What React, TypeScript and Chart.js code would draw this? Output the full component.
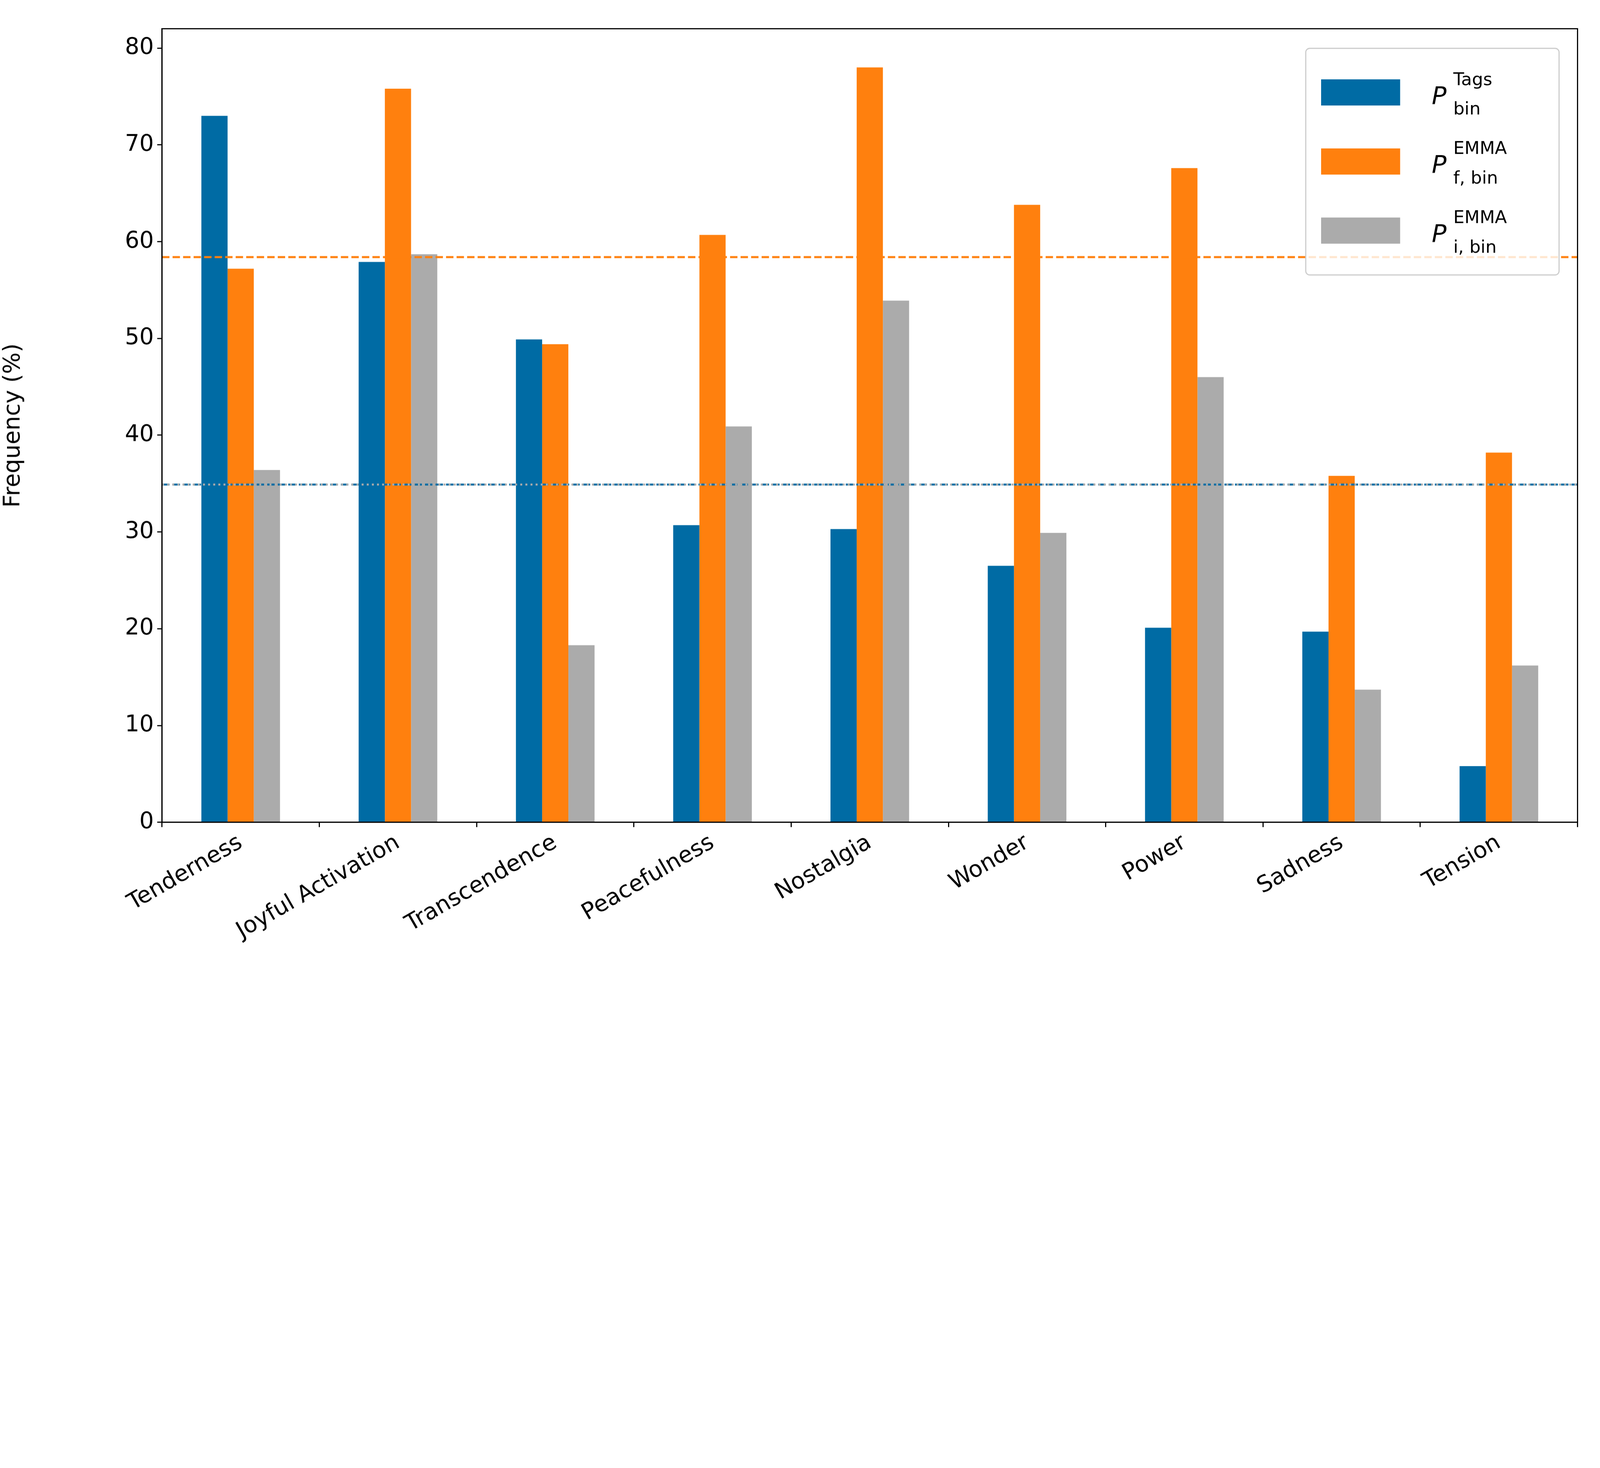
import React, { useEffect, useRef } from "react";
import { Chart, registerables } from "chart.js";
Chart.register(...registerables);

const categories = ["Tenderness", "Joyful Activation", "Transcendence", "Peacefulness", "Nostalgia", "Wonder", "Power", "Sadness", "Tension"];
const tagsValues = [73.0, 57.9, 49.9, 30.7, 30.3, 26.5, 20.1, 19.7, 5.8];
const fValues = [57.2, 75.8, 49.4, 60.7, 78.0, 63.8, 67.6, 35.8, 38.2];
const iValues = [36.4, 58.7, 18.3, 40.9, 53.9, 29.9, 46.0, 13.7, 16.2];
const meanF = 58.4;
const meanTags = 34.9;
const meanI = 34.9;
const yTicks = [0, 10, 20, 30, 40, 50, 60, 70, 80];

const BLUE = "#006ba4";
const ORANGE = "#ff800e";
const GRAY = "#ababab";
const FONT = "DejaVu Sans";

export default function App() {
  const ref = useRef<HTMLCanvasElement>(null);
  const W = window.innerWidth;
  const H = window.innerHeight;
  const s = Math.min(W / 5628, H / 3759);
  useEffect(() => {
    const extra = {
      id: "extra",
      afterDatasetsDraw(chart: any) {
        const ctx = chart.ctx;
        const a = chart.chartArea;
        const y = chart.scales.y;
        ctx.save();
        const hline = (v: number, color: string, dash: number[]) => {
          ctx.beginPath();
          ctx.strokeStyle = color;
          ctx.lineWidth = 7 * s;
          ctx.setLineDash(dash.map((d) => d * s));
          const py = y.getPixelForValue(v);
          ctx.moveTo(a.left, py);
          ctx.lineTo(a.right, py);
          ctx.stroke();
        };
        hline(meanF, ORANGE, [26, 11]);
        hline(meanTags, BLUE, [26, 11]);
        hline(meanI, GRAY, [7, 11]);
        ctx.setLineDash([]);
        ctx.strokeStyle = "#000";
        ctx.lineWidth = 4 * s;
        ctx.strokeRect(a.left, a.top, a.right - a.left, a.bottom - a.top);
        const lx = 4593 * s, ly = 170 * s, lw = 891 * s, lh = 797 * s;
        ctx.fillStyle = "rgba(255,255,255,0.8)";
        ctx.strokeStyle = "#cccccc";
        ctx.lineWidth = 4 * s;
        ctx.beginPath();
        ctx.roundRect(lx, ly, lw, lh, 14 * s);
        ctx.fill();
        ctx.stroke();
        const items = [
          { c: BLUE, sup: "Tags", sub: "bin" },
          { c: ORANGE, sup: "EMMA", sub: "f, bin" },
          { c: GRAY, sup: "EMMA", sub: "i, bin" },
        ];
        items.forEach((it, k) => {
          const cy = (325 + k * 243) * s;
          ctx.fillStyle = it.c;
          ctx.fillRect(4647 * s, cy - 46 * s, 278 * s, 92 * s);
          ctx.fillStyle = "#000";
          ctx.textBaseline = "alphabetic";
          ctx.textAlign = "left";
          ctx.font = `italic ${86 * s}px ${FONT}`;
          ctx.fillText("P", 5036 * s, cy + 40 * s);
          ctx.font = `${62 * s}px ${FONT}`;
          ctx.fillText(it.sup, 5112 * s, cy - 26 * s);
          ctx.fillText(it.sub, 5112 * s, cy + 78 * s);
        });
        ctx.restore();
      },
    };
    const fs = 80 * s;
    const chart = new Chart(ref.current!, {
      type: "bar",
      data: {
        labels: categories,
        datasets: [
          { data: tagsValues, backgroundColor: BLUE },
          { data: fValues, backgroundColor: ORANGE },
          { data: iValues, backgroundColor: GRAY },
        ],
      },
      options: {
        animation: false,
        responsive: false,
        layout: { padding: { top: 101 * s, right: 79 * s, left: 0, bottom: 0 } },
        plugins: { legend: { display: false }, tooltip: { enabled: false } },
        datasets: { bar: { categoryPercentage: 0.5, barPercentage: 1.0 } },
        scales: {
          x: {
            grid: { display: true, drawOnChartArea: false, drawTicks: true, tickLength: 17 * s, tickColor: "#000", lineWidth: 4 * s },
            border: { display: true, color: "#000", width: 4 * s },
            ticks: { color: "#000", font: { family: FONT, size: fs }, minRotation: 30, maxRotation: 30, padding: 8 * s },
            afterFit: (sc: any) => { sc.height = 866 * s; },
          },
          y: {
            min: 0,
            max: 82,
            afterBuildTicks: (sc: any) => { sc.ticks = yTicks.map((v) => ({ value: v })); },
            grid: { display: true, drawOnChartArea: false, drawTicks: true, tickLength: 17 * s, tickColor: "#000", lineWidth: 4 * s },
            border: { display: true, color: "#000", width: 4 * s },
            ticks: { color: "#000", font: { family: FONT, size: fs }, padding: 12 * s },
            title: { display: true, text: "Frequency (%)", color: "#000", font: { family: FONT, size: fs }, padding: { top: 0, bottom: 30 * s } },
            afterFit: (sc: any) => { sc.width = 570 * s; },
          },
        },
      },
      plugins: [extra],
    });
    return () => chart.destroy();
  }, []);
  return (
    <div style={{ position: "fixed", left: 0, top: 0, width: W, height: H, background: "#fff" }}>
      <canvas ref={ref} width={5628 * s} height={3759 * s} style={{ width: 5628 * s, height: 3759 * s }} />
    </div>
  );
}
